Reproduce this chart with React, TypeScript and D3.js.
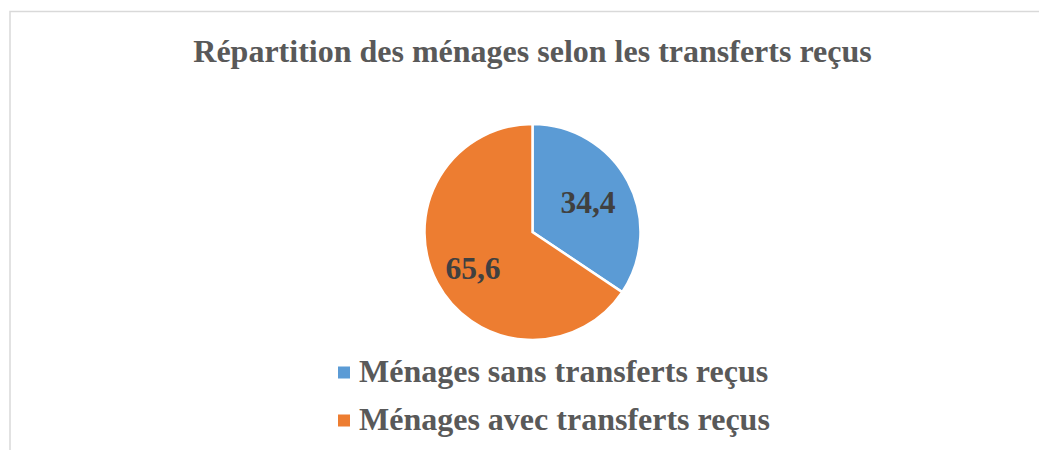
import React from "react";
import * as d3 from "d3";

const categories = ["Ménages sans transferts reçus", "Ménages avec transferts reçus"];
const values = [34.4, 65.6];
const labels = ["34,4", "65,6"];
const colors = ["#5B9BD5", "#ED7D31"];
const title = "Répartition des ménages selon les transferts reçus";

export default function App() {
  const W = 1039, H = 450;
  const cx = 532.5, cy = 232, r = 108;
  const pie = d3.pie<number>().sort(null).value((d) => d)(values);
  const arc = d3.arc<d3.PieArcDatum<number>>().innerRadius(0).outerRadius(r);
  const font = "'Liberation Serif', 'Times New Roman', serif";
  return (
    <svg width={W} height={H} style={{ position: "absolute", left: 0, top: 0 }}>
      <rect x={0} y={0} width={W} height={H} fill="#fff" />
      <rect x={10} y={11.5} width={1100} height={500} fill="#fff" stroke="#D9D9D9" strokeWidth={1.5} />
      <text x={532.5} y={62} textAnchor="middle" fontFamily={font} fontWeight="bold" fontSize={32} fill="#595959">{title}</text>
      <g transform={`translate(${cx},${cy})`}>
        {pie.map((p, i) => (
          <path key={i} d={arc(p) || ""} fill={colors[i]} stroke="#fff" strokeWidth={2.5} strokeLinejoin="miter" />
        ))}
      </g>
      <text x={588} y={212.5} textAnchor="middle" fontFamily={font} fontWeight="bold" fontSize={31.5} fill="#404040">{labels[0]}</text>
      <text x={473} y={279} textAnchor="middle" fontFamily={font} fontWeight="bold" fontSize={31.5} fill="#404040">{labels[1]}</text>
      {categories.map((c, i) => (
        <g key={i} transform={`translate(338,${366.5 + i * 48})`}>
          <rect x={0} y={0} width={12} height={12} fill={colors[i]} />
          <text x={21} y={15.5} fontFamily={font} fontWeight="bold" fontSize={32} fill="#595959">{c}</text>
        </g>
      ))}
    </svg>
  );
}
